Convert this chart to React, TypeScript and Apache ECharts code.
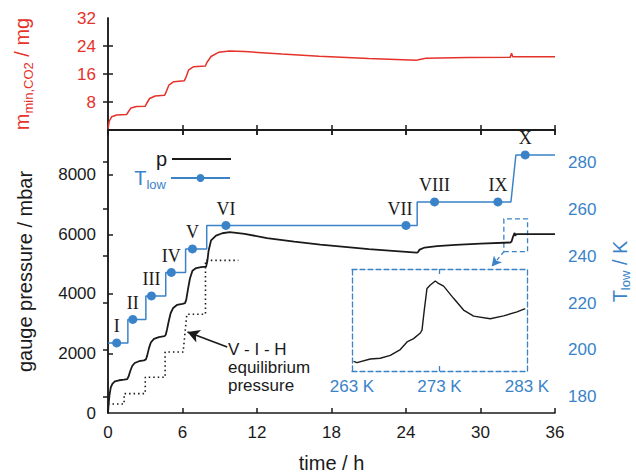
import React, { useEffect, useRef } from 'react';
import * as echarts from 'echarts';

const RED = '#e5322b';
const BLUE = '#3a83c8';
const INK = '#1a1a1a';
const SANS = '"Liberation Sans", Arial, Helvetica, sans-serif';
const SERIF = '"Liberation Serif", "Times New Roman", serif';

// tick labels
const massTicks = [8, 16, 24, 32];
const massMinorTicks = [8, 16, 24];
const pressureTicks = [0, 2000, 4000, 6000, 8000];
const pressureInnerTicks = [2000, 4000, 6000, 8000];
const tempTicks = [180, 200, 220, 240, 260, 280];
const insetTempLabels = [263, 273, 283];
const insetTempTicks = [273];

// top panel: minimum CO2 mass (t [h], m [mg])
const massSeries: [number, number][] = [
  [0, 0.3], [0.1, 2.5], [0.3, 3.8], [0.7, 4.3], [1.5, 4.4], [1.6, 5.0], [1.85, 6.3], [2.3, 6.7], [3.0, 6.8],
  [3.1, 7.5], [3.35, 9.0], [3.8, 9.7], [4.55, 9.9], [4.65, 10.6], [4.9, 12.8], [5.3, 13.8], [6.15, 14.1],
  [6.25, 14.8], [6.5, 17.2], [6.9, 18.1], [7.85, 18.3], [7.95, 19.2], [8.3, 21.0], [8.9, 22.2], [9.8, 22.6],
  [11, 22.4], [14, 21.7], [17, 21.1], [21, 20.4], [24.85, 19.9], [25.0, 20.1], [25.6, 20.5], [29, 20.7],
  [32.4, 20.8], [32.5, 21.9], [32.6, 20.9], [36, 20.95],
];

// gauge pressure p (t [h], p [mbar])
const pressureSeries: [number, number][] = [
  [0, 0], [0.05, 300], [0.12, 600], [0.22, 850], [0.35, 980], [0.55, 1060], [0.9, 1100], [1.3, 1120],
  [1.55, 1140], [1.65, 1220], [1.8, 1420], [1.95, 1580], [2.15, 1680], [2.5, 1740], [2.9, 1770], [3.05, 1800],
  [3.15, 1920], [3.3, 2180], [3.45, 2370], [3.7, 2490], [4.1, 2550], [4.55, 2580], [4.65, 2630], [4.75, 2800],
  [4.9, 3100], [5.05, 3360], [5.25, 3530], [5.55, 3630], [6.0, 3670], [6.2, 3690], [6.3, 3800], [6.45, 4180],
  [6.6, 4520], [6.8, 4780], [7.1, 4870], [7.5, 4900], [7.9, 4920], [8.0, 5100], [8.1, 5450], [8.3, 5800],
  [8.7, 5960], [9.2, 6040], [9.8, 6075], [11.0, 6020], [12.8, 5880], [15, 5760], [17.1, 5660], [21, 5510],
  [24.85, 5390], [24.95, 5400], [25.1, 5490], [25.5, 5560], [26.5, 5610], [28, 5650], [30, 5690], [32.4, 5730],
  [32.5, 5760], [32.6, 5900], [32.7, 6000], [32.75, 6050], [32.8, 5950], [32.85, 6000], [33.0, 6010], [36, 6010],
];

// V-I-H equilibrium pressure (t [h], p [mbar])
const equilibriumSeries: [number, number][] = [
  [0, 300], [1.3, 300], [1.3, 650], [3.0, 650], [3.0, 1200], [4.6, 1200], [4.6, 2050], [6.05, 2050],
  [6.35, 3320], [7.85, 3320], [7.85, 5130], [10.5, 5130],
];

// T_low step profile (t [h], T [K])
const tLowPath: [number, number][] = [
  [0, 203], [1.6, 203], [1.6, 213], [3.05, 213], [3.05, 223], [4.65, 223], [4.65, 233], [6.25, 233],
  [6.25, 243], [7.95, 243], [7.95, 253], [24.9, 253], [24.9, 263], [32.45, 263], [32.85, 283], [36, 283],
];
const stageLabels = ['I', 'II', 'III', 'IV', 'V', 'VI', 'VII', 'VIII', 'IX', 'X'];
const stageTimes = [0.7, 2.0, 3.5, 5.1, 6.8, 9.5, 24.0, 26.3, 31.4, 33.6];
const stageTemps = [203, 213, 223, 233, 243, 253, 253, 263, 263, 283];

// inset: pressure while T_low goes from 263 K to 283 K
const insetTemp = [263.18, 263.57, 265.09, 266.23, 267.38, 268.52, 269.29, 270.04, 270.81, 271.0, 271.26,
  271.57, 271.95, 272.52, 272.78, 273.47, 274.61, 275.75, 276.9, 278.8, 280.33, 281.86, 282.8];
const insetPressure = [5788, 5783, 5797, 5800, 5811, 5834, 5864, 5877, 5899, 5910, 5989,
  6074, 6087, 6103, 6096, 6083, 6035, 5989, 5965, 5955, 5966, 5982, 5995];

// zoom box and arrows (data coordinates)
const zoomBox = { t0: 31.88, t1: 33.79, p0: 5422, p1: 6521 };
const zoomArrowEnd = [30.9, 4920];
const vihArrowStart = [9.6, 2218];
const vihArrowEnd = [6.4, 2723];

export default function App() {
  const ref = useRef<HTMLDivElement>(null);
  useEffect(() => {
    if (!ref.current) return;
    const chart = echarts.init(ref.current, undefined, { renderer: 'svg' });

    const frame = { show: true, lineStyle: { color: INK, width: 1.5 } };
    const dashedFrame = { show: true, lineStyle: { color: BLUE, width: 1.3, type: [5, 3] } };
    const tickIn = (vals?: number[]) => ({
      show: true, inside: true, length: 5, lineStyle: { color: INK, width: 1.5 },
      ...(vals ? { customValues: vals } : {}),
    });
    const noSplit = { show: false };
    const plain = (v: number) => String(v);

    const tData: any[] = [];
    tLowPath.forEach((p) => tData.push({ value: p, symbol: 'none' }));
    stageTimes.forEach((t, i) =>
      tData.push({
        value: [t, stageTemps[i]], name: stageLabels[i], symbol: 'circle',
        label: { show: true, ...(stageLabels[i] === 'VII' ? { offset: [-6, 0] } : {}) },
      })
    );
    tData.sort((a, b) => a.value[0] - b.value[0]);

    const option: any = {
      animation: false,
      backgroundColor: '#ffffff',
      textStyle: { fontFamily: SANS },
      grid: [
        { left: 108, top: 18, width: 447, height: 112, outerBoundsMode: 'none' },
        { left: 108, top: 130, width: 447, height: 283, outerBoundsMode: 'none' },
        { left: 352, top: 269, width: 175, height: 102, outerBoundsMode: 'none' },
      ],
      legend: [
        {
          data: [{ name: 'p', icon: 'rect' }], right: 400, top: 144, orient: 'vertical', align: 'right', itemWidth: 59, itemHeight: 1.8,
          selectedMode: false, textStyle: { fontSize: 20, color: INK, fontFamily: SANS },
        },
        {
          data: ['T_low'], right: 400, top: 160, orient: 'vertical', align: 'right', itemWidth: 59, itemHeight: 10,
          selectedMode: false, formatter: () => 'T{sub|low}',
          textStyle: {
            fontSize: 20, color: BLUE, fontFamily: SANS, lineHeight: 26,
            rich: { sub: { fontSize: 13, color: BLUE, fontFamily: SANS, lineHeight: 13, verticalAlign: 'bottom' } },
          },
        },
      ],
      xAxis: [
        { type: 'value', gridIndex: 0, min: 0, max: 36, interval: 6, position: 'bottom', axisLine: frame, axisTick: tickIn(), axisLabel: { show: false }, splitLine: noSplit },
        { type: 'value', gridIndex: 0, min: 0, max: 36, interval: 6, position: 'top', axisLine: frame, axisTick: tickIn(), axisLabel: { show: false }, splitLine: noSplit },
        {
          type: 'value', gridIndex: 1, min: 0, max: 36, interval: 6, position: 'bottom', axisLine: frame, axisTick: tickIn(),
          axisLabel: { show: true, color: INK, fontSize: 17, fontFamily: SANS, margin: 11, formatter: plain }, splitLine: noSplit,
          name: 'time / h', nameLocation: 'middle', nameGap: 40, nameTextStyle: { fontSize: 20, color: INK, fontFamily: SANS },
        },
        { type: 'value', gridIndex: 1, min: 0, max: 36, interval: 6, position: 'top', axisLine: frame, axisTick: tickIn(), axisLabel: { show: false }, splitLine: noSplit },
        {
          type: 'value', gridIndex: 2, min: 263, max: 283, position: 'bottom', axisLine: dashedFrame,
          axisTick: { show: true, inside: true, length: 5, customValues: insetTempTicks, lineStyle: { color: BLUE, width: 1.3 } },
          axisLabel: { show: true, customValues: insetTempLabels, formatter: (v: number) => `${v} K`, color: BLUE, fontSize: 17, fontFamily: SANS, margin: 7 },
          splitLine: noSplit,
        },
        {
          type: 'value', gridIndex: 2, min: 263, max: 283, position: 'top', axisLine: dashedFrame,
          axisTick: { show: true, inside: true, length: 5, customValues: insetTempTicks, lineStyle: { color: BLUE, width: 1.3 } },
          axisLabel: { show: false }, splitLine: noSplit,
        },
      ],
      yAxis: [
        {
          type: 'value', gridIndex: 0, min: 0, max: 32, position: 'left', axisLine: frame, axisTick: tickIn(massMinorTicks),
          axisLabel: { show: true, customValues: massTicks, color: RED, fontSize: 17, fontFamily: SANS, margin: 12, formatter: plain }, splitLine: noSplit,
          name: 'm{sub|min,CO2} / mg', nameLocation: 'middle', nameRotate: 90, nameGap: 73,
          nameTextStyle: {
            fontSize: 20, color: RED, fontFamily: SANS, lineHeight: 26,
            rich: { sub: { fontSize: 13, color: RED, fontFamily: SANS, lineHeight: 13, verticalAlign: 'bottom' } },
          },
        },
        { type: 'value', gridIndex: 0, min: 0, max: 32, position: 'right', axisLine: frame, axisTick: tickIn(massMinorTicks), axisLabel: { show: false }, splitLine: noSplit },
        {
          type: 'value', gridIndex: 1, min: 0, max: 9510, position: 'left', axisLine: frame, axisTick: tickIn(pressureInnerTicks),
          axisLabel: { show: true, customValues: pressureTicks, color: INK, fontSize: 17, fontFamily: SANS, margin: 12, formatter: plain }, splitLine: noSplit,
          name: 'gauge pressure / mbar', nameLocation: 'middle', nameRotate: 90, nameGap: 73,
          nameTextStyle: { fontSize: 20, color: INK, fontFamily: SANS },
        },
        {
          type: 'value', gridIndex: 1, min: 173.19, max: 293.62, position: 'right', axisLine: frame, axisTick: tickIn(tempTicks),
          axisLabel: { show: true, customValues: tempTicks, color: BLUE, fontSize: 17, fontFamily: SANS, margin: 13, formatter: plain }, splitLine: noSplit,
          name: 'T{sub|low} / K', nameLocation: 'middle', nameRotate: 90, nameGap: 53,
          nameTextStyle: {
            fontSize: 20, color: BLUE, fontFamily: SANS, lineHeight: 24,
            rich: { sub: { fontSize: 13, color: BLUE, fontFamily: SANS, lineHeight: 13, verticalAlign: 'bottom' } },
          },
        },
        { type: 'value', gridIndex: 2, min: 5750, max: 6150, position: 'left', axisLine: dashedFrame, axisTick: { show: false }, axisLabel: { show: false }, splitLine: noSplit },
        { type: 'value', gridIndex: 2, min: 5750, max: 6150, position: 'right', axisLine: dashedFrame, axisTick: { show: false }, axisLabel: { show: false }, splitLine: noSplit },
      ],
      series: [
        {
          name: 'm', type: 'line', xAxisIndex: 0, yAxisIndex: 0, data: massSeries, symbol: 'none',
          lineStyle: { color: RED, width: 1.5 }, itemStyle: { color: RED },
        },
        {
          name: 'eq', type: 'line', xAxisIndex: 2, yAxisIndex: 2, data: equilibriumSeries, symbol: 'none',
          lineStyle: { color: INK, width: 1.6, type: [1.5, 3] }, itemStyle: { color: INK },
          markLine: {
            silent: true, symbol: ['none', 'arrow'], symbolSize: [10, 12], label: { show: false },
            lineStyle: { color: INK, width: 1.6, type: 'solid' },
            data: [[{ coord: vihArrowStart }, { coord: vihArrowEnd }]],
          },
        },
        {
          name: 'p', type: 'line', xAxisIndex: 2, yAxisIndex: 2, data: pressureSeries, symbol: 'none',
          lineStyle: { color: INK, width: 1.8 }, itemStyle: { color: INK },
          markArea: {
            silent: true,
            itemStyle: { color: 'rgba(0,0,0,0)', borderColor: BLUE, borderWidth: 1.3, borderType: [5, 3] },
            data: [[{ coord: [zoomBox.t0, zoomBox.p0] }, { coord: [zoomBox.t1, zoomBox.p1] }]],
          },
          markLine: {
            silent: true, symbol: ['none', 'arrow'], symbolSize: [8, 10], label: { show: false },
            lineStyle: { color: BLUE, width: 1.3, type: [4, 3] },
            data: [[{ coord: [zoomBox.t0, zoomBox.p0] }, { coord: zoomArrowEnd }]],
          },
        },
        {
          name: 'T_low', type: 'line', xAxisIndex: 2, yAxisIndex: 3, data: tData, symbol: 'circle', symbolSize: 9,
          showSymbol: true, lineStyle: { color: BLUE, width: 1.5 }, itemStyle: { color: BLUE },
          label: { show: false, position: 'top', distance: 3, formatter: '{b}', fontFamily: SERIF, fontSize: 18, color: INK },
          z: 3,
        },
        {
          name: 'inset', type: 'line', xAxisIndex: 4, yAxisIndex: 4,
          data: insetTemp.map((t, i) => [t, insetPressure[i]]), symbol: 'none',
          lineStyle: { color: INK, width: 1.4 },
        },
      ],
      graphic: [
        {
          type: 'text', left: 228, top: 340,
          style: { text: 'V - I - H\nequilibrium\npressure', font: `17px ${SANS}`, fill: INK, lineHeight: 18 },
        },
      ],
    };

    chart.setOption(option);
    return () => chart.dispose();
  }, []);

  return <div ref={ref} style={{ width: 636, height: 475, position: 'absolute', left: 0, top: 0, background: '#fff' }} />;
}
